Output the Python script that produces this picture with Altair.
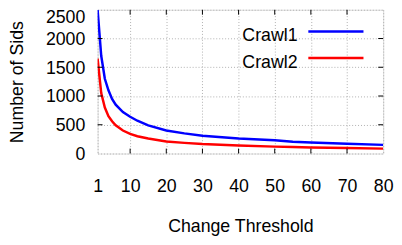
import altair as alt
import pandas as pd

# data
thresholds = [1, 2, 3, 4, 5, 6, 8, 10, 12, 15, 20, 25, 30, 40, 50, 55, 60, 70, 80]
crawl1 = [2500, 1700, 1300, 1100, 950, 850, 720, 640, 570, 490, 400, 350, 310, 260, 230, 205, 190, 170, 150]
crawl2 = [1650, 1050, 800, 650, 560, 490, 400, 340, 300, 260, 210, 185, 165, 140, 120, 112, 105, 95, 85]
series_names = ["Crawl1", "Crawl2"]
series_colors = ["#0000ff", "#ff0000"]
x_ticks = [1, 10, 20, 30, 40, 50, 60, 70, 80]
y_ticks = [0, 500, 1000, 1500, 2000, 2500]

W, H = 290, 146
FONT = "Liberation Sans"
FS = 18

rows = []
for name, vals in zip(series_names, [crawl1, crawl2]):
    for t, v in zip(thresholds, vals):
        rows.append({"threshold": t, "sids": v, "series": name})
df = pd.DataFrame(rows)

xscale = alt.Scale(domain=[1, 80], nice=False, zero=False)
yscale = alt.Scale(domain=[0, 2500], nice=False)

xaxis = alt.Axis(values=x_ticks, tickCount=len(x_ticks) + 2, format="d", title="Change Threshold",
                 labelFont=FONT, titleFont=FONT,
                 labelFontSize=FS, titleFontSize=FS, titleFontWeight="normal",
                 labelColor="black", titleColor="black", ticks=False, tickSize=0,
                 domain=False, grid=True, gridColor="#b0b0b0", gridDash=[1, 2],
                 gridWidth=1, labelPadding=25, titlePadding=22, labelFlush=False,
                 labelOverlap=False)
yaxis = alt.Axis(values=y_ticks, tickCount=len(y_ticks) + 2, format="d", title="Number of Sids",
                 labelFont=FONT, titleFont=FONT,
                 labelFontSize=FS, titleFontSize=FS, titleFontWeight="normal",
                 labelColor="black", titleColor="black", ticks=False, tickSize=0,
                 domain=False, grid=True, gridColor="#b0b0b0", gridDash=[1, 2],
                 gridWidth=1, labelPadding=13, titlePadding=19, labelOverlap=False,
                 labelBaseline={"condition": {"test": "datum.value == 2500", "value": "top"}, "value": "middle"},
                 labelOffset={"condition": {"test": "datum.value == 2500", "value": -1}, "value": 1})

lines = alt.Chart(df).mark_line(strokeWidth=2.5, clip=True).encode(
    x=alt.X("threshold:Q", scale=xscale, axis=xaxis),
    y=alt.Y("sids:Q", scale=yscale, axis=yaxis),
    color=alt.Color("series:N", scale=alt.Scale(domain=series_names, range=series_colors), legend=None),
)

xt = pd.DataFrame({"t": x_ticks[1:-1]})
yt = pd.DataFrame({"t": y_ticks[1:-1]})
tick_b = alt.Chart(xt).mark_rule(color="black", strokeWidth=1).encode(
    x=alt.X("t:Q", scale=xscale), y=alt.value(H), y2=alt.value(H - 5))
tick_t = alt.Chart(xt).mark_rule(color="black", strokeWidth=1).encode(
    x=alt.X("t:Q", scale=xscale), y=alt.value(0), y2=alt.value(5))
tick_l = alt.Chart(yt).mark_rule(color="black", strokeWidth=1).encode(
    y=alt.Y("t:Q", scale=yscale), x=alt.value(0), x2=alt.value(5))
tick_r = alt.Chart(yt).mark_rule(color="black", strokeWidth=1).encode(
    y=alt.Y("t:Q", scale=yscale), x=alt.value(W), x2=alt.value(W - 5))

legend_layers = []
for i, (name, col) in enumerate(zip(series_names, series_colors)):
    ld = pd.DataFrame({"label": [name]})
    ty = 27 + i * 27
    legend_layers.append(alt.Chart(ld).mark_text(align="right", baseline="middle", font=FONT,
                                                 fontSize=FS, color="black").encode(
        text="label:N", x=alt.value(203), y=alt.value(ty)))
    legend_layers.append(alt.Chart(ld).mark_rule(color=col, strokeWidth=2.5).encode(
        x=alt.value(214), x2=alt.value(270), y=alt.value(ty - 5)))

chart = alt.layer(lines, tick_b, tick_t, tick_l, tick_r, *legend_layers).properties(
    width=W, height=H,
    autosize=alt.AutoSizeParams(type="none"),
    padding={"left": 91, "top": 0, "right": 11, "bottom": 83},
).configure_view(stroke="black", strokeWidth=1.5).configure(background="white")

chart.save("out.html", embed_options={"renderer": "svg", "actions": False})
